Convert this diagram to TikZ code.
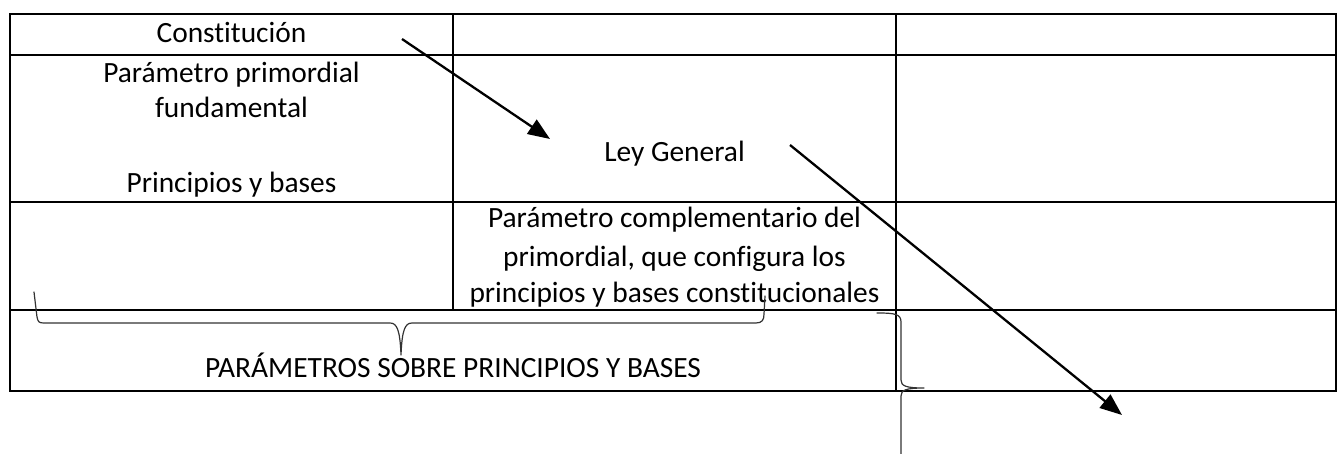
\documentclass[tikz,border=0pt]{standalone}
\usepackage{fontspec}
\setmainfont{Carlito}[Ligatures=NoCommon]
\usetikzlibrary{arrows.meta}
\tikzset{
  grid/.style={line width=2.1pt, line cap=rect},
  txt/.style={anchor=base, inner sep=0pt, font=\fontsize{29.4}{35}\selectfont},
  arr/.style={line width=2.3pt, -{Triangle[length=22pt,width=17pt]}},
  brace/.style={line width=1.2pt, draw=black!80, line cap=round, line join=round},
}
\begin{document}
\begin{tikzpicture}[x=1pt,y=-1pt]
\useasboundingbox[fill=white] (0,0) rectangle (1338,454);
% table
\draw[grid] (10,14) rectangle (1336,391);
\draw[grid] (10,55) -- (1336,55);
\draw[grid] (10,202) -- (1336,202);
\draw[grid] (10,310) -- (1336,310);
\draw[grid] (453,14) -- (453,310);
\draw[grid] (896,14) -- (896,391);
% texts
\node[txt] (const) at (231.5,43) {Constitución};
\node[txt] (pp1) at (231.5,83) {Parámetro primordial};
\node[txt] (pp2) at (231.5,118) {fundamental};
\node[txt] (pyb) at (231.5,193) {Principios y bases};
\node[txt] (ley) at (674.5,162) {Ley General};
\node[txt] (pc1) at (674.5,228) {Parámetro complementario del};
\node[txt] (pc2) at (674.5,266) {primordial, que configura los};
\node[txt] (pc3) at (674.5,302) {principios y bases constitucionales};
\node[txt] (psp) at (453,377) {PARÁMETROS SOBRE PRINCIPIOS Y BASES};
% arrows
\coordinate (a1s) at (402,39);
\coordinate (a1e) at (550,139);
\coordinate (a2s) at (790,145);
\coordinate (a2e) at (1122,415);
\draw[arr] (a1s) -- (a1e);
\draw[arr] (a2s) -- (a2e);
% horizontal brace
\coordinate (b1l) at (34,292);
\coordinate (b1r) at (765,296);
\coordinate (b1t) at (401,355);
\draw[brace] (b1l) -- (37,317) .. controls (38,322) and (39,323) .. (44,323)
  -- (390,323) .. controls (397,323) and (400,330) .. (b1t)
  .. controls (402,330) and (405,323) .. (412,323)
  -- (756,323) .. controls (762,323) and (764,320) .. (764,314) -- (b1r);
% vertical brace
\coordinate (b2t) at (877,313);
\coordinate (b2p) at (924,388);
\coordinate (b2b) at (901,454);
\draw[brace] (b2t) .. controls (895,313) and (901,314) .. (901,322)
  -- (901,380) .. controls (901,386) and (906,388) .. (b2p)
  .. controls (906,388) and (901,390) .. (901,396) -- (b2b);
\end{tikzpicture}
\end{document}
